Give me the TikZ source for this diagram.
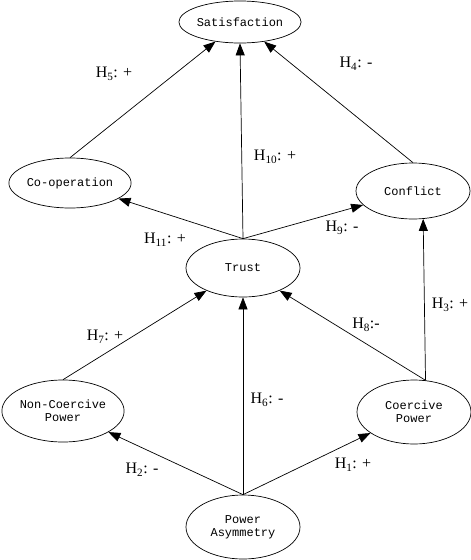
\documentclass[tikz,border=0pt]{standalone}
\usepackage{fontspec}
\setmainfont{Liberation Serif}
\newfontfamily\boxfont{Liberation Mono}
\usetikzlibrary{shapes.geometric,arrows.meta}

\begin{document}
\begin{tikzpicture}[x=1pt, y=-1pt,
    construct/.style={ellipse, draw, line width=0.7pt, inner sep=0pt, align=center,
        font=\boxfont\fontsize{12}{13}\selectfont, minimum width=114pt},
    hyp/.style={font=\fontsize{16}{17}\selectfont, inner sep=1pt},
    link/.style={line width=0.7pt, -{Triangle[length=12pt, width=9pt]}}]

        \useasboundingbox (0, 0) rectangle (471, 560);

        % constructs
        \node[construct, minimum height=42pt] (sat) at (240, 22) {Satisfaction};
        \node[construct, minimum width=112pt, minimum height=50pt] (coop) at (70, 183) {Co-operation};
        \node[construct, minimum height=56pt] (conf) at (413, 191) {Conflict};
        \node[construct, minimum height=58pt] (trust) at (243, 268) {Trust};
        \node[construct, minimum height=62pt] (ncp) at (63, 411) {Non-Coercive\\Power};
        \node[construct, minimum height=64pt] (cp) at (414, 412) {Coercive\\Power};
        \node[construct, minimum height=64pt] (pa) at (243, 527) {Power\\Asymmetry};

        % paths
        \draw[link] (coop.north) -- (sat);
        \draw[link] (trust.north) -- (sat.south);
        \draw[link] (conf.north) -- (sat);
        \draw[link] (trust.north) -- (coop);
        \draw[link] (trust.north) -- (conf);
        \draw[link] (ncp.north) -- (trust);
        \draw[link] (cp.70) -- (trust);
        \draw[link] (cp.70) -- (conf.290);
        \draw[link] (pa.north) -- (trust.south);
        \draw[link] (pa.north) -- (ncp);
        \draw[link] (pa.north) -- (cp);

        % hypotheses
        \node[hyp] (h5) at (114, 74) {H\textsubscript{5}: +};
        \node[hyp] (h10) at (275, 157) {H\textsubscript{10}: +};
        \node[hyp] (h4) at (356, 64) {H\textsubscript{4}: -};
        \node[hyp] (h11) at (165, 240) {H\textsubscript{11}: +};
        \node[hyp] (h9) at (342, 228) {H\textsubscript{9}: -};
        \node[hyp] (h7) at (105, 337) {H\textsubscript{7}: +};
        \node[hyp] (h6) at (267, 400) {H\textsubscript{6}: -};
        \node[hyp] (h8) at (366, 325) {H\textsubscript{8}:-};
        \node[hyp] (h3) at (450, 305) {H\textsubscript{3}: +};
        \node[hyp] (h2) at (142, 470) {H\textsubscript{2}: -};
        \node[hyp] (h1) at (353, 465) {H\textsubscript{1}: +};

\end{tikzpicture}
\end{document}
